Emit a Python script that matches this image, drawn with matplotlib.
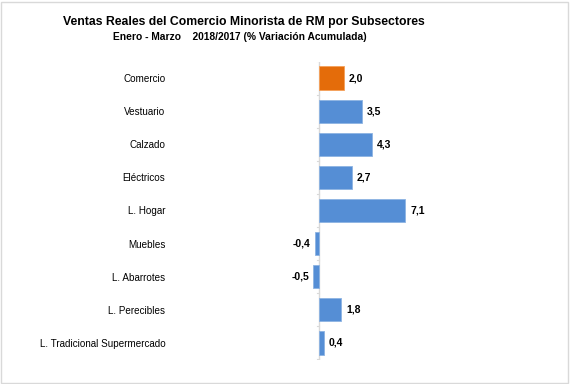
import matplotlib
matplotlib.use("Agg")
import matplotlib.pyplot as plt
from matplotlib.patches import Rectangle

categories = ["Comercio", "Vestuario", "Calzado", "Eléctricos", "L. Hogar",
              "Muebles", "L. Abarrotes", "L. Perecibles", "L. Tradicional Supermercado"]
values = [2.0, 3.5, 4.3, 2.7, 7.1, -0.4, -0.5, 1.8, 0.4]
value_labels = ["2,0", "3,5", "4,3", "2,7", "7,1", "-0,4", "-0,5", "1,8", "0,4"]
colors = ["#E46C0A"] + ["#558ED5"] * 8

plt.rcParams['font.family'] = ['Liberation Sans', 'DejaVu Sans']

W, H = 570, 384
fig = plt.figure(figsize=(W / 100, H / 100), dpi=100)
fig.patches.append(Rectangle((0.002, 0.003), 0.995, 0.993, transform=fig.transFigure,
                             fill=False, edgecolor="#d9d9d9", linewidth=1))

left, right = 175 / W, 545 / W
top, bottom = 1 - 61.5 / H, 1 - 359.5 / H
ax = fig.add_axes([left, bottom, right - left, top - bottom])

n = len(categories)
ypos = list(range(n))
ax.barh(ypos, values, height=0.7, color=colors, edgecolor="#8db3e2", linewidth=0.6)
ax.patches[0].set_edgecolor("#f5a05a")
ax.set_xlim(-11.9, 18.6)
ax.set_ylim(n - 0.5, -0.5)

for s in ax.spines.values():
    s.set_visible(False)
ax.axvline(0, color="#d9d9d9", linewidth=1, zorder=0)
for b in range(n + 1):
    ax.plot([-0.2, 0], [b - 0.5, b - 0.5], color="#d9d9d9", linewidth=0.8, zorder=0)

ax.set_xticks([])
ax.set_yticks(ypos)
ax.set_yticklabels(categories, fontsize=7.1)
ax.tick_params(axis="y", length=0, pad=7)

for y, v, lab in zip(ypos, values, value_labels):
    if v >= 0:
        ax.annotate(lab, (v, y), xytext=(3.5, 0), textcoords="offset points",
                    ha="left", va="center", fontsize=7.5, fontweight="bold")
    else:
        ax.annotate(lab, (v, y), xytext=(-3, 0), textcoords="offset points",
                    ha="right", va="center", fontsize=7.5, fontweight="bold")

fig.text(244 / W, 1 - 22 / H, "Ventas Reales del Comercio Minorista de RM por Subsectores",
         ha="center", va="center", fontsize=8.8, fontweight="bold")
fig.text(240 / W, 1 - 37 / H, "Enero - Marzo    2018/2017 (% Variación Acumulada)",
         ha="center", va="center", fontsize=7.4, fontweight="bold")

fig.savefig("out.png", dpi=100)
